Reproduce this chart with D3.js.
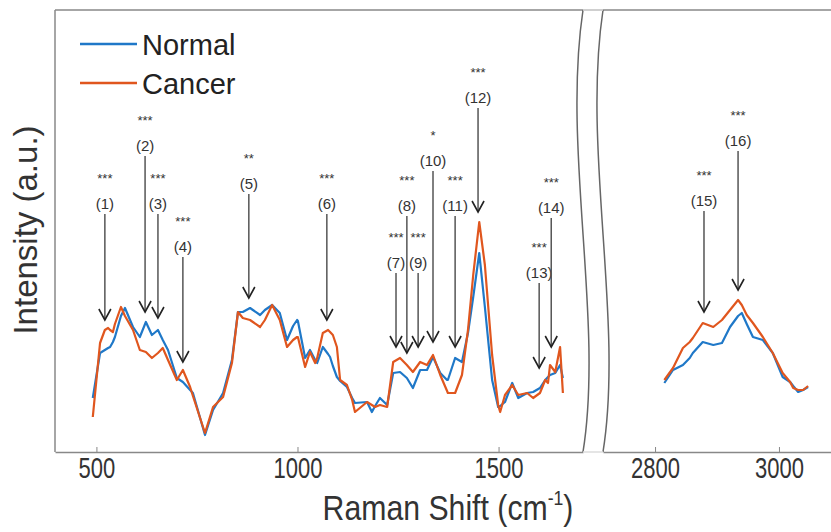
<!DOCTYPE html>
<html>
<head>
<meta charset="utf-8">
<script src="https://cdn.jsdelivr.net/npm/d3@7"></script>
<style>
  body { margin: 0; background: #fff; }
  text { font-family: "Liberation Sans", Arial, sans-serif; }
</style>
</head>
<body>
<div id="chart"></div>
<script>
// spectra, left range (cm-1) and intensity (a.u.)
var shiftLow = [491, 509, 521, 529, 534, 541, 546, 561, 571, 591, 608, 623, 638, 653, 665, 678, 700, 715, 733, 740, 770, 790, 815, 837, 852, 864, 882, 907, 919, 937, 956, 974, 989, 999, 1001, 1019, 1031, 1044, 1049, 1063, 1076, 1081, 1088, 1098, 1106, 1123, 1136, 1143, 1173, 1185, 1193, 1205, 1223, 1238, 1255, 1272, 1287, 1305, 1322, 1337, 1355, 1372, 1374, 1392, 1409, 1424, 1437, 1452, 1466, 1484, 1499, 1504, 1516, 1534, 1549, 1571, 1586, 1603, 1616, 1623, 1628, 1641, 1653, 1660];

var normalLow = [0.48, 0.93, 0.96, 0.98, 0.99, 1.04, 1.09, 1.30, 1.38, 1.19, 1.09, 1.24, 1.11, 1.16, 1.06, 0.96, 0.68, 0.64, 0.56, 0.53, 0.11, 0.36, 0.53, 0.86, 1.34, 1.34, 1.38, 1.31, 1.36, 1.41, 1.33, 1.06, 1.20, 1.26, 1.25, 0.88, 0.96, 0.86, 0.83, 0.99, 0.92, 0.89, 0.80, 0.69, 0.65, 0.59, 0.48, 0.43, 0.44, 0.34, 0.40, 0.48, 0.41, 0.73, 0.74, 0.68, 0.58, 0.76, 0.76, 0.89, 0.73, 0.66, 0.66, 0.88, 0.84, 1.13, 1.49, 1.93, 1.39, 0.66, 0.39, 0.40, 0.44, 0.63, 0.48, 0.53, 0.54, 0.58, 0.66, 0.69, 0.71, 0.73, 0.81, 0.68];

var cancerLow = [0.29, 1.03, 1.16, 1.18, 1.16, 1.14, 1.22, 1.39, 1.30, 1.16, 0.96, 0.94, 0.88, 0.93, 0.98, 0.86, 0.66, 0.76, 0.59, 0.50, 0.13, 0.39, 0.49, 0.83, 1.34, 1.28, 1.26, 1.19, 1.26, 1.41, 1.26, 0.99, 1.06, 1.09, 1.09, 0.79, 0.94, 0.83, 0.88, 1.13, 1.16, 1.14, 1.11, 0.99, 0.66, 0.61, 0.46, 0.34, 0.44, 0.41, 0.39, 0.41, 0.39, 0.84, 0.88, 0.81, 0.74, 0.84, 0.81, 0.91, 0.71, 0.55, 0.53, 0.53, 0.71, 1.16, 1.71, 2.24, 1.81, 0.91, 0.41, 0.34, 0.51, 0.61, 0.51, 0.53, 0.48, 0.53, 0.66, 0.63, 0.81, 0.74, 0.99, 0.53];

// spectra, high wavenumber range
var shiftHigh = [2815, 2829, 2845, 2856, 2861, 2877, 2894, 2908, 2921, 2934, 2940, 2948, 2958, 2974, 2990, 3006, 3018, 3023, 3031, 3039, 3047];
var normalHigh = [0.63, 0.76, 0.81, 0.88, 0.93, 1.04, 1.01, 1.03, 1.19, 1.30, 1.33, 1.22, 1.09, 1.06, 0.93, 0.69, 0.64, 0.60, 0.54, 0.56, 0.59];
var cancerHigh = [0.66, 0.78, 0.98, 1.04, 1.08, 1.23, 1.19, 1.26, 1.36, 1.46, 1.41, 1.31, 1.23, 1.09, 0.93, 0.73, 0.64, 0.58, 0.56, 0.56, 0.60];

// annotated bands
var peakShift = [521, 621, 653, 715, 879, 1073, 1245, 1272, 1300, 1337, 1392, 1449, 1601, 1631, 2879, 2934];
var peakLabel = ['(1)', '(2)', '(3)', '(4)', '(5)', '(6)', '(7)', '(8)', '(9)', '(10)', '(11)', '(12)', '(13)', '(14)', '(15)', '(16)'];
var peakStars = ['***', '***', '***', '***', '**', '***', '***', '***', '***', '*', '***', '***', '***', '***', '***', '***'];
var peakTip = [1.26, 1.34, 1.28, 0.84, 1.48, 1.26, 0.99, 0.93, 0.99, 1.04, 0.99, 2.34, 0.78, 0.99, 1.34, 1.56];
var peakLevel = [2.43, 3.01, 2.43, 2.00, 2.63, 2.43, 1.84, 2.41, 1.84, 2.86, 2.41, 3.49, 1.74, 2.39, 2.46, 3.06];

var seriesNames = ['Normal', 'Cancer'];
var seriesColors = ['#1f78c8', '#e0561e'];

var tickLow = [500, 1000, 1500];
var tickHigh = [2800, 3000];

var width = 831, height = 532;
var plotTop = 10, plotBottom = 452, plotLeft = 55;
var breakL = 583, breakR = 603;

var svg = d3.select('#chart').append('svg')
    .attr('width', width)
    .attr('height', height);

var xLow = d3.scaleLinear().domain([397, 1710]).range([plotLeft, breakL]);
var xHigh = d3.scaleLinear().domain([2716, 3084]).range([breakR, width]);
var y = d3.scaleLinear().domain([-0.06, 4.36]).range([plotBottom, plotTop]);

// frame (top and left lines)
svg.append('line')
    .attr('x1', plotLeft).attr('x2', width).attr('y1', plotTop).attr('y2', plotTop)
    .attr('stroke', '#888').attr('stroke-width', 1.5);
svg.append('line')
    .attr('x1', plotLeft).attr('x2', plotLeft).attr('y1', plotTop).attr('y2', plotBottom)
    .attr('stroke', '#888').attr('stroke-width', 1.5);

// bottom axes
function drawAxis(scale, ticks) {
    var g = svg.append('g')
        .attr('transform', 'translate(0,' + plotBottom + ')')
        .call(d3.axisBottom(scale).tickValues(ticks).tickFormat(d3.format('d'))
            .tickSize(-5).tickSizeOuter(0).tickPadding(5));
    g.select('.domain').attr('stroke', '#888').attr('stroke-width', 1.5);
    g.selectAll('.tick line').attr('stroke', '#888').attr('stroke-width', 1);
    g.selectAll('.tick text')
        .attr('font-size', 29)
        .attr('fill', '#333')
        .attr('font-family', '"Liberation Sans", Arial, sans-serif')
        .attr('transform', 'scale(0.76,1)');
    return g;
}
drawAxis(xLow, tickLow);
drawAxis(xHigh, tickHigh);

// axis break
[breakL, breakR].forEach(function (bx) {
    svg.append('path')
        .attr('d', 'M' + bx + ',' + plotTop + 'C' + (bx - 21) + ',150 ' + (bx + 21) + ',320 ' + bx + ',' + plotBottom)
        .attr('fill', 'none')
        .attr('stroke', '#666')
        .attr('stroke-width', 1.5);
});
[plotTop, plotBottom].forEach(function (by) {
    svg.append('line')
        .attr('x1', breakL).attr('x2', breakR).attr('y1', by).attr('y2', by)
        .attr('stroke', '#ddd').attr('stroke-width', 1.5);
});

// spectra lines
function drawLine(xs, vals, scale, color) {
    var pts = xs.map(function (d, i) { return [d, vals[i]]; });
    svg.append('path')
        .datum(pts)
        .attr('d', d3.line()
            .x(function (d) { return scale(d[0]); })
            .y(function (d) { return y(d[1]); }))
        .attr('fill', 'none')
        .attr('stroke', color)
        .attr('stroke-width', 2.2)
        .attr('stroke-linejoin', 'round');
}
drawLine(shiftLow, normalLow, xLow, seriesColors[0]);
drawLine(shiftLow, cancerLow, xLow, seriesColors[1]);
drawLine(shiftHigh, normalHigh, xHigh, seriesColors[0]);
drawLine(shiftHigh, cancerHigh, xHigh, seriesColors[1]);

// arrows + labels
peakShift.forEach(function (s, i) {
    var px = s > 2000 ? xHigh(s) : xLow(s);
    var ly = y(peakLevel[i]);
    var ty = y(peakTip[i]);
    svg.append('line')
        .attr('x1', px).attr('x2', px)
        .attr('y1', ly + 11).attr('y2', ty)
        .attr('stroke', '#555').attr('stroke-width', 1.5);
    svg.append('path')
        .attr('d', 'M' + (px - 6) + ',' + (ty - 11) + 'L' + px + ',' + ty + 'L' + (px + 6) + ',' + (ty - 11))
        .attr('fill', 'none')
        .attr('stroke', '#222')
        .attr('stroke-width', 1.6);
    svg.append('text')
        .attr('x', px).attr('y', ly)
        .attr('text-anchor', 'middle')
        .attr('dominant-baseline', 'central')
        .attr('font-size', 15)
        .attr('fill', '#333')
        .text(peakLabel[i]);
    svg.append('text')
        .attr('x', px).attr('y', ly - 20)
        .attr('text-anchor', 'middle')
        .attr('font-size', 13)
        .attr('fill', '#333')
        .text(peakStars[i]);
});

// legend
seriesNames.forEach(function (name, i) {
    var ly = 44 + i * 39;
    svg.append('line')
        .attr('x1', 80).attr('x2', 137).attr('y1', ly).attr('y2', ly)
        .attr('stroke', seriesColors[i]).attr('stroke-width', 2.5);
    svg.append('text')
        .attr('x', 142).attr('y', ly + 11)
        .attr('font-size', 29)
        .attr('fill', '#222')
        .text(name);
});

// axis titles
var xt = svg.append('text')
    .attr('transform', 'translate(448,520) scale(0.84,1)')
    .attr('text-anchor', 'middle')
    .attr('font-size', 36)
    .attr('fill', '#333');
xt.append('tspan').text('Raman Shift (cm');
xt.append('tspan').attr('font-size', 21).attr('dy', -15).text('-1');
xt.append('tspan').attr('dy', 15).text(')');

svg.append('text')
    .attr('transform', 'translate(25,230) rotate(-90)')
    .attr('text-anchor', 'middle')
    .attr('dominant-baseline', 'central')
    .attr('font-size', 33)
    .attr('fill', '#333')
    .text('Intensity (a.u.)');
</script>
</body>
</html>
